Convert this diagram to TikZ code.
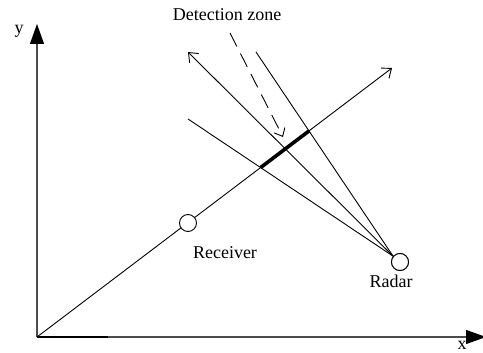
\documentclass[tikz,border=0pt]{standalone}
\usepackage{fontspec}
\setmainfont{Liberation Serif}
\usetikzlibrary{arrows.meta}
\begin{document}
\begin{tikzpicture}[x=1pt,y=-1pt,
  lbl/.style={inner sep=0pt,font=\fontsize{18}{20}\selectfont},
  axis/.style={draw=black!70,line width=1.3pt,-{Triangle[length=20pt,width=14pt,color=black]}},
  ray/.style={line width=0.9pt},
  openarrow/.style={-{Straight Barb[length=8pt,width=13pt,line width=0.9pt]}},
  dot/.style={circle,draw,fill=white,line width=0.9pt,minimum size=17pt,inner sep=0pt}]
\useasboundingbox (0,0) rectangle (483,353);
% axes
\coordinate (O) at (37,337);
\coordinate (xe) at (486,337);
\coordinate (ye) at (37,24);
\draw[axis] (O) -- (xe);
\draw[axis] (O) -- (ye);
\coordinate (xb) at (108,337);
\draw[line width=1.6pt] (O) -- (xb);
\node[lbl] (xl) at (462,345) {x};
\node[lbl] (yl) at (19,31) {y};
% main diagonal
\coordinate (d) at (392,68);
\draw[ray,openarrow] (O) -- (d);
% radar lines
\node[dot] (rad) at (400,262) {};
\coordinate (rc) at (rad.140);
\coordinate (a1) at (188,52);
\coordinate (a2) at (188,119);
\coordinate (a3) at (256,52);
\draw[ray,openarrow] (rc) -- (a1);
\draw[ray] (a2) -- (rc);
\draw[ray] (a3) -- (rc);
% thick segment
\coordinate (p2) at (intersection of O--d and a2--rc);
\coordinate (p3) at (intersection of O--d and a3--rc);
\draw[line width=3.6pt] (p2) -- (p3);
% receiver
\node[dot] (rec) at (188,223) {};
\node[dot] at (rad) {};
% labels
\node[lbl] (recl) at (225,253) {Receiver};
\node[lbl] (radl) at (391,281) {Radar};
\node[lbl] (dz) at (227,15) {Detection zone};
% dashed arrow
\coordinate (ds) at (230,33);
\coordinate (de) at (283,137);
\draw[ray,dash pattern=on 15pt off 8pt,-{Straight Barb[length=7pt,width=12pt,line width=0.9pt]}] (ds) -- (de);
\end{tikzpicture}
\end{document}
